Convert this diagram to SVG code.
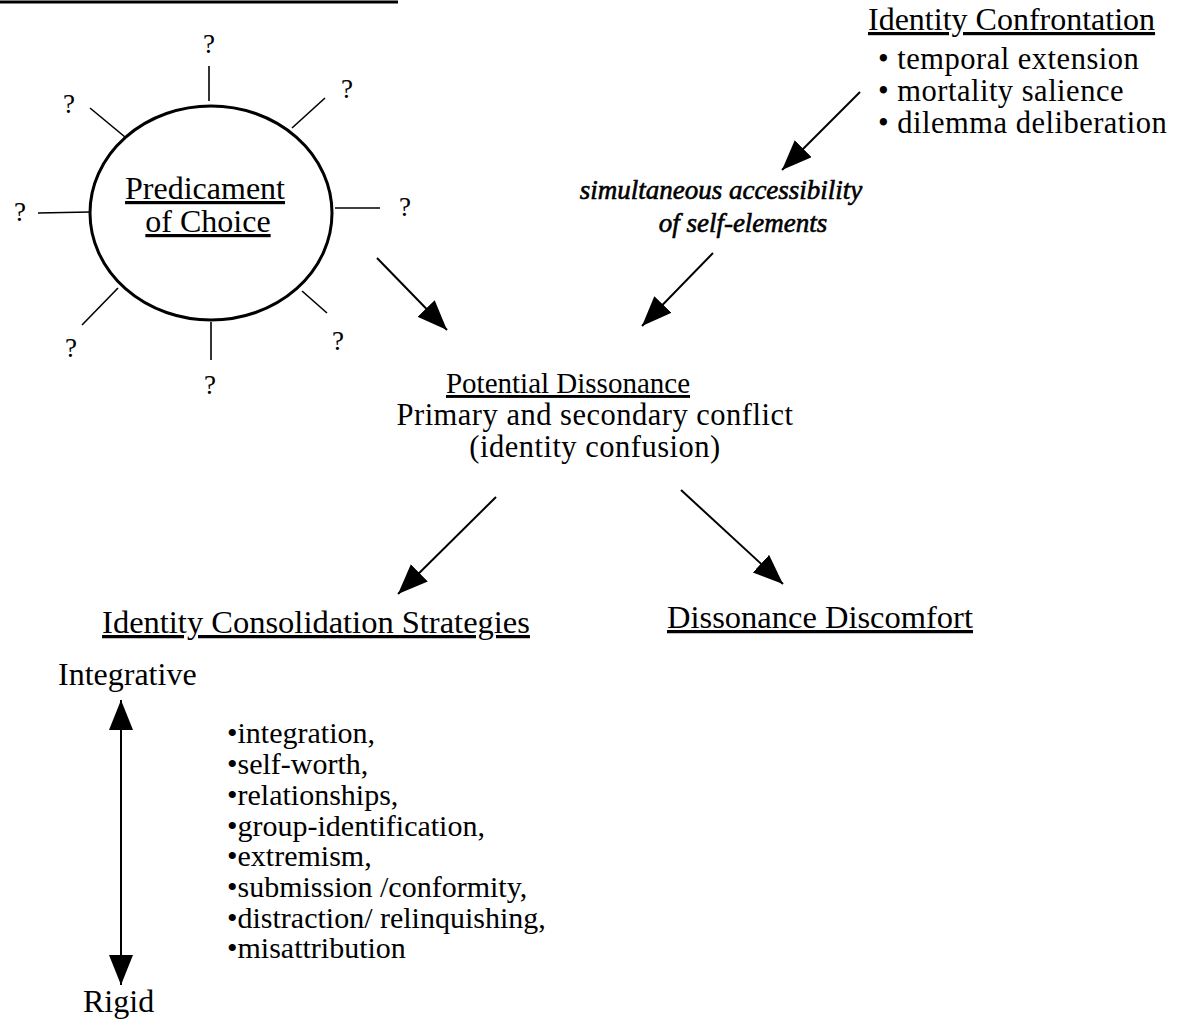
<svg xmlns="http://www.w3.org/2000/svg" width="1185" height="1020" viewBox="0 0 1185 1020">
<style>
.t{font-family:"Liberation Serif","Times New Roman",serif;fill:#000;font-size:32px}
.u{text-decoration:underline}
.i{font-style:italic;font-size:27px;stroke:#000;stroke-width:0.6}
.l{font-size:30px}
.m{font-size:30.5px;letter-spacing:0.5px}
.q{font-family:"Liberation Serif","Times New Roman",serif;font-size:27px;fill:#000;text-anchor:middle}
.sp{stroke:#000;stroke-width:1.6;fill:none}
.ar{stroke:#000;stroke-width:2;fill:none;marker-end:url(#ah)}
</style>
<defs>
<marker id="ah" markerUnits="userSpaceOnUse" markerWidth="32" markerHeight="26" refX="30" refY="12" orient="auto-start-reverse" viewBox="0 0 32 26">
<path d="M0,0 L30,12 L0,24 z" fill="#000"/>
</marker>
</defs>
<rect width="1185" height="1020" fill="#fff"/>
<line x1="0" y1="2" x2="398" y2="2" stroke="#000" stroke-width="3"/>

<g id="predicament">
<ellipse cx="211" cy="213" rx="121" ry="107" fill="none" stroke="#000" stroke-width="3"/>
<text class="t u" x="205" y="199" text-anchor="middle">Predicament</text>
<text class="t u" x="208" y="232" text-anchor="middle">of Choice</text>
<g class="sp">
<line x1="209" y1="66" x2="209" y2="101"/>
<line x1="292" y1="128" x2="325" y2="98"/>
<line x1="90" y1="108" x2="125" y2="137"/>
<line x1="38" y1="213" x2="90" y2="212"/>
<line x1="335" y1="208" x2="380" y2="208"/>
<line x1="118" y1="288" x2="82" y2="325"/>
<line x1="211" y1="322" x2="211" y2="360"/>
<line x1="302" y1="291" x2="327" y2="313"/>
</g>
<text class="q" x="209" y="53">?</text>
<text class="q" x="347" y="98">?</text>
<text class="q" x="69" y="113">?</text>
<text class="q" x="20" y="221">?</text>
<text class="q" x="405" y="216">?</text>
<text class="q" x="71" y="357">?</text>
<text class="q" x="210" y="394">?</text>
<text class="q" x="338" y="350">?</text>
</g>

<g id="confrontation">
<text class="t u" x="868" y="30">Identity Confrontation </text>
<text class="t m" x="878" y="69">• temporal extension</text>
<text class="t m" x="878" y="101">• mortality salience</text>
<text class="t m" x="878" y="133">• dilemma deliberation</text>
</g>

<g id="accessibility">
<text class="t i" x="721" y="199" text-anchor="middle">simultaneous accessibility</text>
<text class="t i" x="743" y="232" text-anchor="middle">of self-elements</text>
</g>

<g id="dissonance">
<text class="t u" x="568" y="393" text-anchor="middle" style="font-size:29px">Potential Dissonance</text>
<text class="t m" x="595" y="425" text-anchor="middle">Primary and secondary conflict</text>
<text class="t m" x="595" y="457" text-anchor="middle">(identity confusion)</text>
</g>

<g id="strategies">
<text class="t u" x="316" y="633" text-anchor="middle" style="font-size:32.5px">Identity Consolidation Strategies</text>
<text class="t" x="58" y="685">Integrative</text>
<text class="t" x="83" y="1012">Rigid</text>
<text class="t l" x="227" y="743">•integration,</text>
<text class="t l" x="227" y="774">•self-worth,</text>
<text class="t l" x="227" y="805">•relationships,</text>
<text class="t l" x="227" y="836">•group-identification,</text>
<text class="t l" x="227" y="866">•extremism,</text>
<text class="t l" x="227" y="897">•submission /conformity,</text>
<text class="t l" x="227" y="928">•distraction/ relinquishing,</text>
<text class="t l" x="227" y="958">•misattribution</text>
</g>

<g id="discomfort">
<text class="t u" x="820" y="628" text-anchor="middle" style="font-size:32.5px">Dissonance Discomfort</text>
</g>

<g id="connectors">
<line class="ar" x1="860" y1="92" x2="782" y2="170"/>
<line class="ar" x1="713" y1="253" x2="642" y2="326"/>
<line class="ar" x1="377" y1="258" x2="447" y2="330"/>
<line class="ar" x1="496" y1="497" x2="398" y2="594"/>
<line class="ar" x1="681" y1="490" x2="783" y2="584"/>
<line class="ar" x1="121" y1="700" x2="121" y2="985" style="marker-start:url(#ah)"/>
</g>
</svg>
